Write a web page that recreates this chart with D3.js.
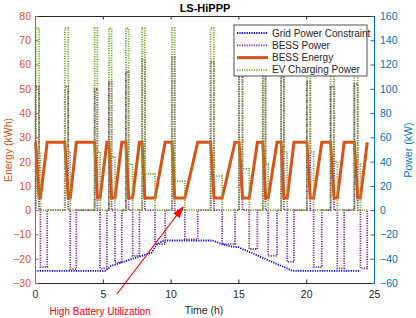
<!DOCTYPE html>
<html>
<head>
<meta charset="utf-8">
<script src="https://cdn.jsdelivr.net/npm/d3@7"></script>
<style>
  body { margin: 0; background: #fff; }
  svg { font-family: "Liberation Sans", Arial, sans-serif; }
  .axis text { font-size: 10.5px; }
</style>
</head>
<body>
<svg width="416" height="318"></svg>
<script>
// event timings (h)
var dropStart = [0.05, 2.2, 4.4, 5.45, 6.7, 7.9, 10.1, 12.95, 15.05, 16.8, 18.15, 20.05, 21.8, 23.55];
var dropEnd   = [0.3, 2.45, 4.6, 5.65, 6.9, 8.1, 10.3, 13.2, 15.3, 17.0, 18.35, 20.3, 22.05, 23.8];
var rampStart = [0.4, 2.6, 4.8, 5.9, 7.2, 8.85, 11.05, 13.8, 15.8, 17.2, 18.6, 20.55, 22.3, 24.0];
var rampEnd   = [0.9, 3.05, 5.3, 6.4, 7.7, 9.6, 12.0, 14.75, 16.4, 17.85, 19.1, 21.15, 22.8, 24.5];

// BESS power (kW): discharge peaks and charging levels
var bessPeak   = [102, 102, 100, 106, 114, 124, 126, 122, 114, 112, 110, 106, 102, 104];
var bessCharge = [-47, -48.6, -48, -43, -37.6, -28, -24, -28, -32, -37.6, -42.6, -47, -48, -48];

// EV charging power (kW)
var evPeak = 150;
var evTail = [48, 48, 48, 44, 38, 30, 24, 28, 34, 38, 48, 48, 40, 38];

// BESS energy (kWh)
var eMax = 28;
var eMin = 5;

// grid power constraint (kW)
var gridT = [0, 5.2, 5.6, 8.6, 9.0, 9.5, 13.1, 13.8, 14.5, 15.0, 19.0, 24.0];
var gridP = [-50, -50, -46, -35, -28, -25, -25, -28, -30, -30.5, -50, -50];

var xTicks = [0, 5, 10, 15, 20, 25];
var yLeftTicks = [-30, -20, -10, 0, 10, 20, 30, 40, 50, 60, 70, 80];
var yRightTicks = [-60, -40, -20, 0, 20, 40, 60, 80, 100, 120, 140, 160];

var seriesNames = ['Grid Power Constraint', 'BESS Power', 'BESS Energy', 'EV Charging Power'];

var cOrange = '#D95319', cBlue = '#0072BD', cPurple = '#7E2F8E', cGreen = '#77AC30', cGrid = '#0000FF';
var dots = '1.2,1.2';

var svg = d3.select('svg');
var plot = {l: 35, r: 374, t: 16, b: 283};

var x = d3.scaleLinear().domain([0, 25]).range([plot.l, plot.r]);
var yL = d3.scaleLinear().domain([-30, 80]).range([plot.b, plot.t]);
var yR = d3.scaleLinear().domain([-60, 160]).range([plot.b, plot.t]);

// build step series from the event tables
var energy = [[0, eMax]];
var bess = [[0, 0]];
var ev = [[0, 0]];
dropStart.forEach(function(s, i) {
    energy.push([s, eMax], [dropEnd[i], eMin], [rampStart[i], eMin], [rampEnd[i], eMax]);
    bess.push([s, 0], [s, bessPeak[i]], [dropEnd[i], bessPeak[i]], [dropEnd[i], 0],
              [rampStart[i], 0], [rampStart[i], bessCharge[i]], [rampEnd[i], bessCharge[i]], [rampEnd[i], 0]);
    ev.push([s, 0], [s, evPeak], [dropEnd[i], evPeak], [dropEnd[i], evTail[i]],
            [rampStart[i], evTail[i]], [rampStart[i], 0]);
});
ev.push([24.5, 0]);
var grid = gridT.map(function(t, i) { return [t, gridP[i]]; });

var lineR = d3.line().x(function(d) { return x(d[0]); }).y(function(d) { return yR(d[1]); });
var lineL = d3.line().x(function(d) { return x(d[0]); }).y(function(d) { return yL(d[1]); });

svg.append('rect').attr('x', plot.l).attr('y', plot.t)
    .attr('width', plot.r - plot.l).attr('height', plot.b - plot.t).attr('fill', '#fff');

var g = svg.append('g');
g.append('path').datum(grid).attr('d', lineR)
    .attr('fill', 'none').attr('stroke', cGrid).attr('stroke-width', 1.8).attr('stroke-dasharray', dots);
g.append('path').datum(bess).attr('d', lineR)
    .attr('fill', 'none').attr('stroke', cPurple).attr('stroke-width', 1.8).attr('stroke-dasharray', dots);
g.append('path').datum(energy).attr('d', lineL)
    .attr('fill', 'none').attr('stroke', cOrange).attr('stroke-width', 3).attr('stroke-linejoin', 'miter');
g.append('path').datum(ev).attr('d', lineR)
    .attr('fill', 'none').attr('stroke', cGreen).attr('stroke-width', 1.8).attr('stroke-dasharray', dots);

// axes
var tk = 3.5;
svg.append('g').attr('class', 'axis')
    .attr('transform', 'translate(0,' + plot.b + ')')
    .call(d3.axisBottom(x).tickValues(xTicks).tickSizeInner(-tk).tickSizeOuter(0).tickPadding(8))
    .call(function(a) { a.selectAll('line,path').attr('stroke', '#262626'); a.selectAll('text').attr('fill', '#262626'); });
svg.append('g')
    .attr('transform', 'translate(0,' + plot.t + ')')
    .call(d3.axisTop(x).tickValues(xTicks).tickSizeInner(-tk).tickSizeOuter(0).tickFormat(''))
    .call(function(a) { a.selectAll('line,path').attr('stroke', '#262626'); });
svg.append('g').attr('class', 'axis')
    .attr('transform', 'translate(' + plot.l + ',0)')
    .call(d3.axisLeft(yL).tickValues(yLeftTicks).tickSizeInner(-tk).tickSizeOuter(0).tickPadding(4))
    .call(function(a) { a.selectAll('line,path').attr('stroke', cOrange); a.selectAll('text').attr('fill', cOrange); });
svg.append('g').attr('class', 'axis')
    .attr('transform', 'translate(' + plot.r + ',0)')
    .call(d3.axisRight(yR).tickValues(yRightTicks).tickSizeInner(-tk).tickSizeOuter(0).tickPadding(6))
    .call(function(a) { a.selectAll('line,path').attr('stroke', cBlue); a.selectAll('text').attr('fill', cBlue); });
svg.selectAll('.domain').attr('stroke-width', 1);

// labels
svg.append('text').attr('x', 205).attr('y', 12).attr('text-anchor', 'middle')
    .style('font-size', '11px').style('font-weight', 'bold').attr('fill', '#000').text('LS-HiPPP');
svg.append('text').attr('x', 204).attr('y', 314).attr('text-anchor', 'middle')
    .style('font-size', '10.5px').attr('fill', '#262626').text('Time (h)');
svg.append('text').attr('transform', 'translate(12,150) rotate(-90)').attr('text-anchor', 'middle')
    .style('font-size', '10.5px').attr('fill', cOrange).text('Energy (kWh)');
svg.append('text').attr('transform', 'translate(412,150) rotate(-90)').attr('text-anchor', 'middle')
    .style('font-size', '10.5px').attr('fill', cBlue).text('Power (kW)');

// legend
var leg = svg.append('g').attr('transform', 'translate(234,25)');
leg.append('rect').attr('width', 133).attr('height', 51)
    .attr('fill', '#fff').attr('stroke', '#262626').attr('stroke-width', 0.8);
var legStyle = [
    {c: cGrid, w: 1.8, dash: dots},
    {c: cPurple, w: 1.8, dash: dots},
    {c: cOrange, w: 3, dash: null},
    {c: cGreen, w: 1.8, dash: dots}
];
seriesNames.forEach(function(name, i) {
    var yy = 8 + i * 12.3;
    leg.append('line').attr('x1', 3).attr('x2', 34).attr('y1', yy).attr('y2', yy)
        .attr('stroke', legStyle[i].c).attr('stroke-width', legStyle[i].w)
        .attr('stroke-dasharray', legStyle[i].dash);
    leg.append('text').attr('x', 38).attr('y', yy + 3.5)
        .style('font-size', '10px').attr('fill', '#262626').text(name);
});

// annotation
svg.append('defs').append('marker').attr('id', 'head')
    .attr('viewBox', '0 0 12 8').attr('refX', 11).attr('refY', 4)
    .attr('markerWidth', 12).attr('markerHeight', 8).attr('markerUnits', 'userSpaceOnUse')
    .attr('orient', 'auto')
    .append('path').attr('d', 'M0,0 L12,4 L0,8 Z').attr('fill', '#FF0000');
svg.append('line').attr('x1', 117).attr('y1', 294).attr('x2', 183).attr('y2', 207)
    .attr('stroke', '#FF0000').attr('stroke-width', 1.2).attr('marker-end', 'url(#head)');
svg.append('text').attr('x', 100).attr('y', 315).attr('text-anchor', 'middle')
    .style('font-size', '10px').attr('fill', '#FF0000').text('High Battery Utilization');
</script>
</body>
</html>
